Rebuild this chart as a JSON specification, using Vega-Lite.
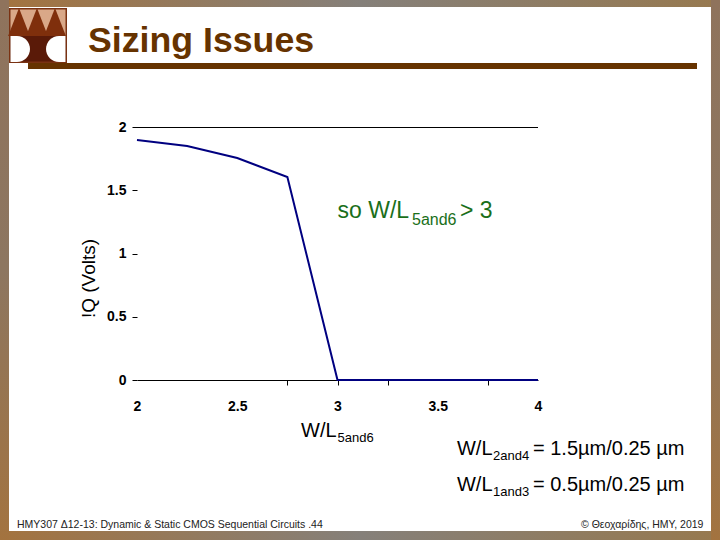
{
  "$schema": "https://vega.github.io/schema/vega-lite/v6.json",
  "width": 401,
  "height": 253,
  "autosize": "none",
  "padding": {"left": 137, "top": 127, "right": 182, "bottom": 160},
  "background": "white",
  "config": {"view": {"stroke": null}},
  "datasets": {
    "curve": [
      {"wl": 2, "volts": 1.897},
      {"wl": 2.25, "volts": 1.85},
      {"wl": 2.5, "volts": 1.755},
      {"wl": 2.75, "volts": 1.605},
      {"wl": 3, "volts": 0},
      {"wl": 3.25, "volts": 0},
      {"wl": 3.5, "volts": 0},
      {"wl": 3.75, "volts": 0},
      {"wl": 4, "volts": 0}
    ],
    "labels": [
      {"text": "W/L", "wl": 2.818, "volts": -0.4506},
      {"text": "W/L", "wl": 3.596, "volts": -0.5929},
      {"text": "= 1.5µm/0.25 µm", "wl": 3.9751, "volts": -0.5929},
      {"text": "W/L", "wl": 3.596, "volts": -0.8775},
      {"text": "= 0.5µm/0.25 µm", "wl": 3.9751, "volts": -0.8775}
    ],
    "subs": [
      {"text": "5and6", "wl": 3, "volts": -0.4901},
      {"text": "2and4", "wl": 3.7756, "volts": -0.6324},
      {"text": "1and3", "wl": 3.7756, "volts": -0.917}
    ],
    "note": [
      {"text": "so W/L", "wl": 3, "volts": 1.2806},
      {"text": "> 3", "wl": 3.611, "volts": 1.2806}
    ],
    "footer": [
      {"text": "HMY307 Δ12-13: Dynamic & Static CMOS Sequential Circuits .44", "wl": 1.4015, "volts": -1.17},
      {"text": "© Θεοχαρίδης, HMY, 2019", "wl": 4.2145, "volts": -1.17}
    ]
  },
  "encoding": {
    "x": {
      "field": "wl",
      "type": "quantitative",
      "scale": {"domain": [2, 4], "nice": false, "zero": false},
      "axis": {
        "title": null,
        "values": [2, 2.5, 2.75, 3, 3.25, 3.5, 3.75, 4],
        "format": ".1~f",
        "labelExpr": "datum.value * 2 == floor(datum.value * 2) ? datum.label : ''",
        "grid": false,
        "domainColor": "black",
        "tickColor": "black",
        "tickSize": 5,
        "tickOpacity": {"condition": {"test": "indexof([2.75, 3, 3.25, 3.75], datum.value) >= 0", "value": 1}, "value": 0},
        "labelFont": "Liberation Sans",
        "labelFontWeight": "bold",
        "labelFontSize": 14,
        "labelColor": "black",
        "labelPadding": 14,
        "labelOverlap": false,
        "labelFlush": false
      }
    },
    "y": {
      "field": "volts",
      "type": "quantitative",
      "scale": {"domain": [0, 2], "nice": false},
      "axis": {
        "title": "!Q (Volts)",
        "titleFont": "Liberation Sans",
        "titleFontSize": 19,
        "titleFontWeight": "normal",
        "titleColor": "black",
        "titleX": -39,
        "titleY": 151,
        "values": [0, 0.5, 1, 1.5, 2],
        "format": "~g",
        "grid": false,
        "domain": false,
        "tickColor": "black",
        "tickSize": 5,
        "labelFont": "Liberation Sans",
        "labelFontWeight": "bold",
        "labelFontSize": 14,
        "labelColor": "black",
        "labelPadding": 6
      }
    }
  },
  "layer": [
    {
      "data": {"values": [
        {"wl": 1.3167, "wl2": 4.9077, "volts": 3.004, "volts2": 2.9486},
        {"wl": 1.3167, "wl2": 4.9077, "volts": -1.1937, "volts2": -1.2648}
      ]},
      "mark": {"type": "rect", "color": {"gradient": "linear", "x1": 0, "y1": 0, "x2": 1, "y2": 0, "stops": [
        {"offset": 0, "color": "#a3733f"},
        {"offset": 0.5, "color": "#85807a"},
        {"offset": 1, "color": "#97794f"}
      ]}},
      "encoding": {"x2": {"field": "wl2"}, "y2": {"field": "volts2"}}
    },
    {
      "data": {"values": [
        {"wl": 1.3167, "wl2": 1.3616, "volts": 3.004, "volts2": -1.2648},
        {"wl": 4.8628, "wl2": 4.9077, "volts": 3.004, "volts2": -1.2648}
      ]},
      "mark": {"type": "rect", "color": {"gradient": "linear", "x1": 0, "y1": 0, "x2": 0, "y2": 1, "stops": [
        {"offset": 0, "color": "#8f735c"},
        {"offset": 0.5, "color": "#8d7660"},
        {"offset": 1, "color": "#a3733f"}
      ]}},
      "encoding": {"x2": {"field": "wl2"}, "y2": {"field": "volts2"}}
    },
    {
      "data": {"values": [{"wl": 1.3616, "wl2": 1.6509, "volts": 2.9407, "volts2": 2.5059}]},
      "mark": {"type": "rect", "color": "#7a3212"},
      "encoding": {"x2": {"field": "wl2"}, "y2": {"field": "volts2"}}
    },
    {
      "data": {"values": [{"wl": 1.3691, "wl2": 1.6434, "volts": 2.9289, "volts2": 2.7194}]},
      "mark": {"type": "rect", "color": "#d9a888"},
      "encoding": {"x2": {"field": "wl2"}, "y2": {"field": "volts2"}}
    },
    {
      "data": {"values": [{"wl": 1.3691, "wl2": 1.6434, "volts": 2.7194, "volts2": 2.5178}]},
      "mark": {"type": "rect", "color": "#5a1a08"},
      "encoding": {"x2": {"field": "wl2"}, "y2": {"field": "volts2"}}
    },
    {
      "data": {"values": [
        {"wl": 1.4115, "volts": 2.83},
        {"wl": 1.5012, "volts": 2.83},
        {"wl": 1.591, "volts": 2.83}
      ]},
      "mark": {"type": "point", "filled": true, "opacity": 1, "color": "#7f2f0c", "size": 784, "shape": "M0,-1L0.78,1L-0.78,1Z"}
    },
    {
      "data": {"values": [{"wl": 1.4015, "volts": 2.6166}]},
      "mark": {"type": "point", "filled": true, "opacity": 1, "color": "white", "size": 676, "shape": "M-0.5,-1L0,-1A1,1 0 0 1 0,1L-0.5,1Z"}
    },
    {
      "data": {"values": [{"wl": 1.611, "volts": 2.6166}]},
      "mark": {"type": "point", "filled": true, "opacity": 1, "color": "white", "size": 676, "shape": "M0.5,-1L0,-1A1,1 0 0 0 0,1L0.5,1Z"}
    },
    {
      "data": {"values": [{"wl": 1.4564, "wl2": 4.793, "volts": 2.5059, "volts2": 2.4585}]},
      "mark": {"type": "rect", "color": "#663300"},
      "encoding": {"x2": {"field": "wl2"}, "y2": {"field": "volts2"}}
    },
    {
      "data": {"values": [{"text": "Sizing Issues", "wl": 1.7556, "volts": 2.5929}]},
      "mark": {"type": "text", "align": "left", "baseline": "alphabetic", "font": "Liberation Sans", "fontWeight": "bold", "fontSize": 35.7, "color": "#663300"},
      "encoding": {"text": {"field": "text"}}
    },
    {
      "data": {"values": [{"wl": 2, "wl2": 4, "volts": 1.996}]},
      "mark": {"type": "rule", "color": "black", "strokeWidth": 1},
      "encoding": {"x2": {"field": "wl2"}}
    },
    {
      "data": {"name": "curve"},
      "mark": {"type": "line", "color": "#000080", "strokeWidth": 2}
    },
    {
      "data": {"name": "labels"},
      "mark": {"type": "text", "align": "left", "baseline": "alphabetic", "font": "Liberation Sans", "fontSize": 20, "color": "black"},
      "encoding": {"text": {"field": "text"}}
    },
    {
      "data": {"name": "subs"},
      "mark": {"type": "text", "align": "left", "baseline": "alphabetic", "font": "Liberation Sans", "fontSize": 13, "color": "black"},
      "encoding": {"text": {"field": "text"}}
    },
    {
      "data": {"name": "note"},
      "mark": {"type": "text", "align": "left", "baseline": "alphabetic", "font": "Liberation Sans", "fontSize": 23, "color": "#1a6f1a"},
      "encoding": {"text": {"field": "text"}}
    },
    {
      "data": {"values": [{"text": "5and6", "wl": 3.3716, "volts": 1.2253}]},
      "mark": {"type": "text", "align": "left", "baseline": "alphabetic", "font": "Liberation Sans", "fontSize": 16, "color": "#1a6f1a"},
      "encoding": {"text": {"field": "text"}}
    },
    {
      "data": {"name": "footer"},
      "mark": {"type": "text", "align": "left", "baseline": "alphabetic", "font": "Liberation Sans", "fontSize": 10.5, "color": "#222222"},
      "encoding": {"text": {"field": "text"}}
    }
  ]
}
